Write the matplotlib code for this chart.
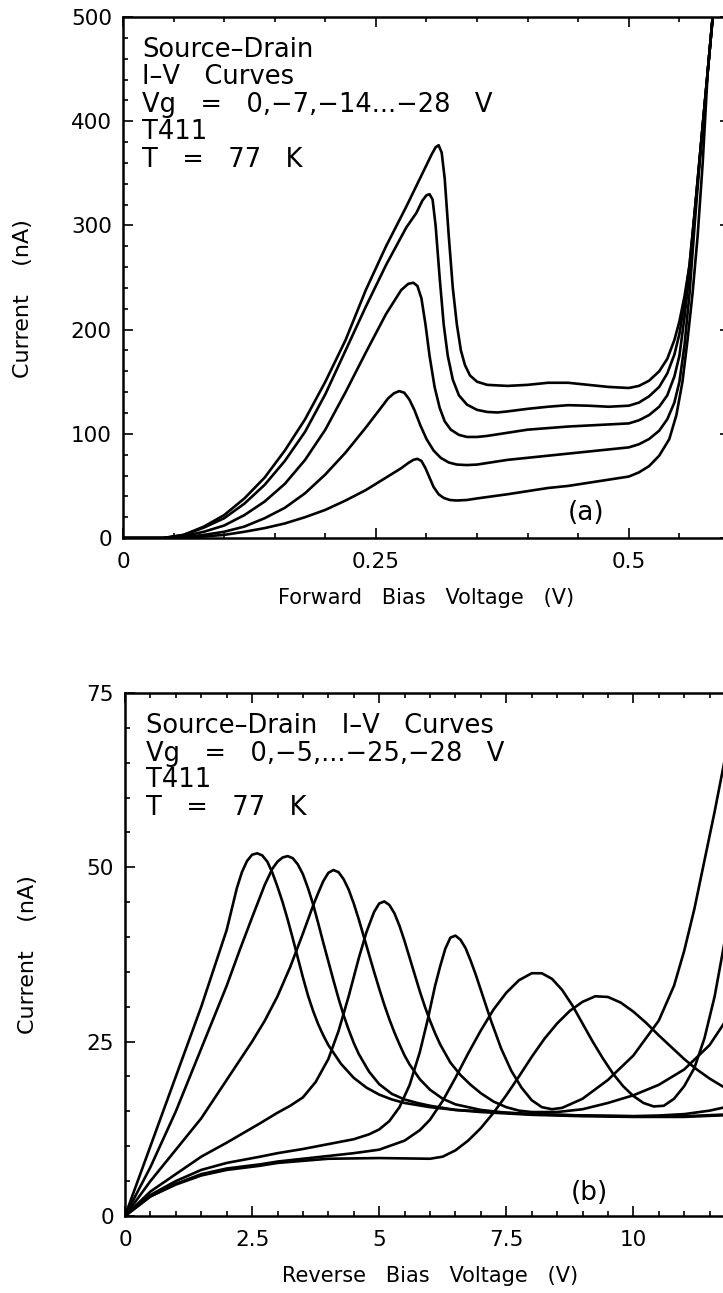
import matplotlib
matplotlib.use('Agg')
import matplotlib.pyplot as plt
from matplotlib.ticker import MultipleLocator

plt.rcParams['font.family'] = ['DejaVu Sans']

# (a) forward bias, Vg = 0, -7, -14, -21, -28 V
fwd_v = [
    [0, 0.04, 0.06, 0.08, 0.10, 0.12, 0.14, 0.16, 0.18, 0.20, 0.22, 0.24, 0.26, 0.28, 0.295, 0.305,
     0.309, 0.312, 0.315, 0.318, 0.322, 0.326, 0.330, 0.334, 0.338, 0.343, 0.350, 0.36, 0.38, 0.40,
     0.42, 0.44, 0.46, 0.48, 0.50, 0.51, 0.52, 0.53, 0.538, 0.545, 0.550, 0.555, 0.560, 0.566, 0.572,
     0.578, 0.584],
    [0, 0.04, 0.06, 0.08, 0.10, 0.12, 0.14, 0.16, 0.18, 0.20, 0.22, 0.24, 0.26, 0.28, 0.29, 0.296,
     0.300, 0.303, 0.306, 0.309, 0.313, 0.317, 0.321, 0.326, 0.332, 0.34, 0.35, 0.36, 0.37, 0.38,
     0.40, 0.42, 0.44, 0.46, 0.48, 0.50, 0.51, 0.52, 0.53, 0.538, 0.545, 0.550, 0.555, 0.560, 0.566,
     0.572, 0.578, 0.584],
    [0, 0.04, 0.06, 0.08, 0.10, 0.12, 0.14, 0.16, 0.18, 0.20, 0.22, 0.24, 0.26, 0.275, 0.282, 0.287,
     0.291, 0.295, 0.299, 0.303, 0.308, 0.313, 0.318, 0.324, 0.332, 0.340, 0.35, 0.36, 0.38, 0.40,
     0.42, 0.44, 0.46, 0.48, 0.50, 0.51, 0.52, 0.53, 0.538, 0.545, 0.550, 0.555, 0.560, 0.566, 0.572,
     0.578, 0.584],
    [0, 0.04, 0.06, 0.08, 0.10, 0.12, 0.14, 0.16, 0.18, 0.20, 0.22, 0.24, 0.255, 0.262, 0.268, 0.273,
     0.278, 0.283, 0.288, 0.294, 0.300, 0.307, 0.314, 0.322, 0.330, 0.340, 0.35, 0.36, 0.38, 0.40,
     0.42, 0.44, 0.46, 0.48, 0.50, 0.51, 0.52, 0.53, 0.538, 0.545, 0.550, 0.555, 0.560, 0.565, 0.572,
     0.578, 0.584],
    [0, 0.04, 0.06, 0.08, 0.10, 0.12, 0.14, 0.16, 0.18, 0.20, 0.22, 0.24, 0.26, 0.275, 0.282, 0.287,
     0.291, 0.295, 0.299, 0.303, 0.307, 0.312, 0.317, 0.323, 0.330, 0.34, 0.35, 0.38, 0.40, 0.42,
     0.44, 0.46, 0.48, 0.50, 0.51, 0.52, 0.53, 0.54, 0.547, 0.553, 0.558, 0.563, 0.568, 0.573, 0.578,
     0.584],
]
fwd_i = [
    [0, 0, 3, 11, 22, 38, 58, 84, 114, 150, 190, 238, 280, 318, 348, 368,
     375, 377, 370, 345, 290, 240, 205, 180, 166, 156, 150, 147, 146, 147,
     149, 149, 147, 145, 144, 146, 151, 160, 172, 190, 208, 232, 262, 322, 385,
     448, 512],
    [0, 0, 3, 10, 19, 33, 51, 74, 102, 138, 180, 222, 262, 298, 312, 324,
     329, 330, 325, 300, 250, 205, 175, 152, 137, 128, 123, 121, 120.5, 121.5,
     124, 126, 127.5, 127, 126, 127, 130, 136, 145, 158, 176, 196, 226, 262, 322,
     385, 448, 512],
    [0, 0, 2, 6, 12, 22, 35, 52, 75, 104, 140, 178, 215, 238, 244, 245,
     242, 230, 205, 175, 145, 125, 112, 104, 99, 97, 97, 98, 101, 104,
     105.5, 107, 108, 109, 110, 113, 118, 126, 137, 155, 175, 212, 255, 322, 385,
     448, 512],
    [0, 0, 1, 3, 6, 11, 19, 29, 43, 61, 82, 106, 125, 134, 139, 141,
     139.5, 133, 123, 108, 95, 84, 77, 72.5, 70.5, 70, 70.5, 72, 75, 77,
     79, 81, 83, 85, 87, 90, 95, 103, 114, 130, 150, 185, 235, 300, 385,
     448, 512],
    [0, 0, 0.5, 1.5, 3, 6, 9.5, 14, 20, 27, 36, 46, 58, 67, 72, 75,
     76, 74, 67, 58, 49, 42, 38.5, 36.5, 36, 36.5, 38, 42, 45, 48,
     50, 53, 56, 59, 63, 69, 79, 95, 118, 150, 190, 235, 290, 360, 448,
     512],
]

# (b) reverse bias, Vg = 0, -5, ... -25, -28 V
rev_v = [
    [0, 0.5, 1.0, 1.5, 2.0, 2.1, 2.2, 2.3, 2.4, 2.5, 2.6, 2.7, 2.8, 2.9, 3.0, 3.1, 3.2, 3.3, 3.4,
     3.5, 3.6, 3.7, 3.8, 3.9, 4.0, 4.25, 4.5, 4.75, 5.0, 5.25, 5.5, 6.0, 6.5, 7.0, 7.5, 8.0, 9.0,
     10.0, 10.5, 11.0, 11.5, 12.0],
    [0, 0.5, 1.0, 1.5, 2.0, 2.25, 2.5, 2.75, 2.9, 3.0, 3.1, 3.2, 3.3, 3.4, 3.5, 3.6, 3.7, 3.8,
     3.9, 4.0, 4.1, 4.2, 4.3, 4.4, 4.5, 4.6, 4.8, 5.0, 5.25, 5.5, 5.75, 6.0, 6.5, 7.0, 7.5, 8.0,
     9.0, 10.0, 11.0, 12.0],
    [0, 0.5, 1.0, 1.5, 2.0, 2.5, 2.75, 3.0, 3.25, 3.5, 3.7, 3.8, 3.9, 4.0, 4.1, 4.2, 4.3, 4.4,
     4.5, 4.6, 4.7, 4.8, 4.9, 5.0, 5.1, 5.2, 5.3, 5.4, 5.5, 5.6, 5.8, 6.0, 6.25, 6.5, 7.0, 7.5,
     8.0, 9.0, 10.0, 11.0, 12.0],
    [0, 0.5, 1.0, 1.5, 2.0, 2.66, 3.0, 3.25, 3.5, 3.75, 4.0, 4.2, 4.4, 4.6, 4.75, 4.9, 5.0, 5.1,
     5.2, 5.3, 5.4, 5.5, 5.6, 5.7, 5.8, 5.9, 6.0, 6.1, 6.2, 6.4, 6.6, 6.8, 7.0, 7.25, 7.5, 7.75,
     8.0, 8.5, 9.0, 9.5, 10.0, 10.5, 11.0, 11.5, 12.0],
    [0, 0.5, 1.0, 1.5, 2.0, 2.66, 3.0, 3.5, 4.0, 4.5, 4.8, 5.0, 5.2, 5.4, 5.6, 5.8, 5.95, 6.1,
     6.2, 6.3, 6.4, 6.5, 6.6, 6.7, 6.8, 6.9, 7.0, 7.1, 7.2, 7.3, 7.4, 7.6, 7.8, 8.0, 8.2, 8.4,
     8.6, 9.0, 9.5, 10.0, 10.5, 10.8, 11.0, 11.2, 11.4, 11.6, 11.8, 12.0],
    [0, 0.5, 1.0, 1.5, 2.0, 2.66, 3.0, 4.0, 4.5, 5.0, 5.5, 5.8, 6.0, 6.25, 6.5, 6.75, 7.0, 7.25,
     7.5, 7.75, 8.0, 8.2, 8.4, 8.6, 8.8, 9.0, 9.2, 9.4, 9.6, 9.8, 10.0, 10.2, 10.4, 10.6, 10.8,
     11.0, 11.2, 11.4, 11.6, 11.8, 12.0],
    [0, 0.5, 1.0, 1.5, 2.0, 2.66, 3.0, 4.0, 5.0, 5.5, 6.0, 6.25, 6.5, 6.75, 7.0, 7.25, 7.5, 7.75,
     8.0, 8.25, 8.5, 8.75, 9.0, 9.25, 9.5, 9.75, 10.0, 10.25, 10.5, 10.75, 11.0, 11.25, 11.5,
     11.75, 12.0],
]
rev_i = [
    [0, 10, 20, 30, 41, 44, 47, 49.3, 50.9, 51.8, 52, 51.7, 50.8, 49.2, 47.2, 45, 42.5, 39.8, 37,
     34.2, 31.6, 29.4, 27.5, 25.9, 24.5, 21.8, 19.8, 18.4, 17.4, 16.7, 16.2, 15.6, 15.2, 15, 14.8,
     14.6, 14.4, 14.3, 14.4, 14.6, 15.1, 15.9],
    [0, 7, 15, 24, 33, 38, 42.8, 47.5, 49.8, 50.8, 51.4, 51.6, 51.3, 50.4, 49, 47, 44.7, 42,
     39.2, 36.5, 33.8, 31.2, 28.8, 26.7, 24.8, 23.2, 20.7, 18.9, 17.5, 16.7, 16.2, 15.8, 15.2, 14.9,
     14.7, 14.5, 14.3, 14.2, 14.2, 14.5],
    [0, 5, 9.5, 14, 19.5, 25, 28, 31.5, 35.7, 40.5, 44.5, 46.3, 48, 49.2, 49.6, 49.3, 48.3, 46.8,
     44.8, 42.5, 40, 37.5, 35, 32.6, 30.3, 28.2, 26.3, 24.6, 23, 21.7, 19.6, 18.1, 16.8, 16, 15.2,
     14.8, 14.6, 14.4, 14.3, 14.3, 14.6],
    [0, 3.5, 6, 8.5, 10.5, 13.3, 14.8, 15.8, 17, 19.2, 22.5, 26.5, 31.5, 37, 40.7, 43.6, 44.8, 45.1,
     44.6, 43.4, 41.6, 39.4, 37, 34.6, 32.2, 30, 28, 26.2, 24.6, 22, 20.2, 18.8, 17.6, 16.4, 15.6,
     15.1, 14.9, 14.9, 15.3, 16.2, 17.3, 18.8, 21, 24.5, 30],
    [0, 3, 5, 6.6, 7.6, 8.5, 9, 9.6, 10.3, 11, 11.7, 12.4, 13.6, 15.6, 18.8, 23.5, 28, 33,
     35.8, 38.3, 39.9, 40.2, 39.6, 38.4, 36.6, 34.6, 32.4, 30.2, 28, 26, 24, 20.8, 18.4, 16.6, 15.6,
     15.3, 15.5, 16.8, 19.5, 23, 28, 33, 38, 44, 51, 58, 65.5, 74],
    [0, 2.8, 4.6, 6, 6.8, 7.4, 7.8, 8.6, 9, 9.5, 10.8, 12.3, 13.8, 16.5, 19.8, 23.3, 26.6, 29.6,
     32, 33.8, 34.8, 34.8, 34, 32.4, 30.2, 27.6, 25, 22.6, 20.4, 18.6, 17.2, 16.2, 15.7, 15.8, 16.8,
     18.6, 21.2, 25.5, 31.5, 39.5, 48],
    [0, 2.8, 4.5, 5.8, 6.6, 7.2, 7.6, 8.2, 8.3, 8.25, 8.2, 8.5, 9.4, 10.8, 12.6, 14.8, 17.3, 20,
     22.8, 25.4, 27.6, 29.4, 30.7, 31.5, 31.4, 30.6, 29.3, 27.7, 25.9, 24.2, 22.5, 21, 19.7,
     18.6, 17.8],
]

top_text = ['Source\u2013Drain', 'I\u2013V   Curves', 'Vg   =   0,\u22127,\u221214...\u221228   V',
            'T411', 'T   =   77   K']
bot_text = ['Source\u2013Drain   I\u2013V   Curves', 'Vg   =   0,\u22125,...\u221225,\u221228   V',
            'T411', 'T   =   77   K']

fig = plt.figure(figsize=(7.23, 12.93), dpi=100)
ax1 = fig.add_axes([0.1701, 0.5839, 0.8396, 0.4029])
ax2 = fig.add_axes([0.1729, 0.0596, 0.8437, 0.4045])

for v, i in zip(fwd_v, fwd_i):
    ax1.plot(v, i, color='black', lw=1.9, solid_joinstyle='round')
for v, i in zip(rev_v, rev_i):
    ax2.plot(v, i, color='black', lw=1.9, solid_joinstyle='round')

ax1.set_xlim(0, 0.6)
ax1.set_ylim(0, 500)
ax1.xaxis.set_major_locator(MultipleLocator(0.25))
ax1.xaxis.set_minor_locator(MultipleLocator(0.05))
ax1.yaxis.set_major_locator(MultipleLocator(100))
ax1.yaxis.set_minor_locator(MultipleLocator(20))
ax1.set_xticks([0, 0.25, 0.5], ['0', '0.25', '0.5'])

ax2.set_xlim(0, 12)
ax2.set_ylim(0, 75)
ax2.xaxis.set_major_locator(MultipleLocator(2.5))
ax2.xaxis.set_minor_locator(MultipleLocator(0.5))
ax2.yaxis.set_major_locator(MultipleLocator(25))
ax2.yaxis.set_minor_locator(MultipleLocator(5))
ax2.set_xticks([0, 2.5, 5, 7.5, 10], ['0', '2.5', '5', '7.5', '10'])

for ax in (ax1, ax2):
    for s in ax.spines.values():
        s.set_linewidth(1.8)
    ax.tick_params(which='both', direction='in', top=True, right=True, width=1.2)
    ax.tick_params(which='major', length=7, labelsize=15.5)
    ax.tick_params(which='minor', length=3.5)
    ax.tick_params(axis='y', pad=8)
    ax.tick_params(axis='x', pad=10)

ax1.set_ylabel('Current    (nA)', fontsize=16)
ax1.set_xlabel('Forward   Bias   Voltage   (V)', fontsize=15)
ax1.yaxis.set_label_coords(-0.148, 0.46)
ax1.xaxis.set_label_coords(0.5, -0.095)
ax2.set_ylabel('Current    (nA)', fontsize=16)
ax2.set_xlabel('Reverse   Bias   Voltage   (V)', fontsize=15)
ax2.yaxis.set_label_coords(-0.143, 0.5)
ax2.xaxis.set_label_coords(0.5, -0.095)

top_y = [0.937, 0.885, 0.831, 0.779, 0.726]
for t, y in zip(top_text, top_y):
    ax1.text(0.031, y, t, transform=ax1.transAxes, fontsize=18.5, va='center', ha='left')
bot_y = [0.937, 0.883, 0.834, 0.780]
for t, y in zip(bot_text, bot_y):
    ax2.text(0.034, y, t, transform=ax2.transAxes, fontsize=18.5, va='center', ha='left')

ax1.text(0.763, 0.048, '(a)', transform=ax1.transAxes, fontsize=19, ha='center', va='center')
ax2.text(0.762, 0.044, '(b)', transform=ax2.transAxes, fontsize=19, ha='center', va='center')

fig.savefig('out.png', dpi=100)
